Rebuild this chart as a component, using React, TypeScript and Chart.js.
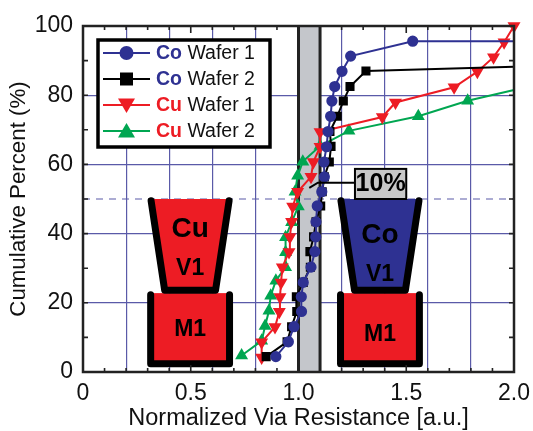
import React, { useEffect, useRef } from "react";
import { Chart, registerables } from "chart.js";

Chart.register(...registerables);

const FONT = '"Liberation Sans", Arial, sans-serif';
const BLUE = "#2e3192";
const RED = "#ed1c24";
const GREEN = "#00a651";
const GRID = "#5a5aa8";

const co1X = [0.895, 0.953, 0.979, 1.014, 1.013, 1.022, 1.058, 1.076, 1.08, 1.081, 1.087, 1.108, 1.12, 1.118, 1.13, 1.137, 1.149, 1.155, 1.168, 1.202, 1.242, 1.53, 2.0];
const co1Y = [4.45, 8.73, 13.1, 17.5, 21.75, 25.9, 30.3, 34.8, 39.05, 43.4, 48, 52.1, 56.4, 60.7, 65.1, 69.5, 73.9, 78.3, 82.5, 86.9, 91.3, 95.6, 95.6];
const co2X = [0.85, 0.947, 0.968, 0.992, 0.99, 1.022, 1.055, 1.053, 1.07, 1.081, 1.103, 1.11, 1.12, 1.143, 1.151, 1.146, 1.18, 1.208, 1.239, 1.313, 2.0];
const co2Y = [4.45, 8.73, 13.1, 17.5, 21.75, 25.9, 30.3, 34.8, 39.05, 43.4, 48, 52.1, 56.4, 60.7, 65.2, 69.5, 73.9, 78.3, 82.5, 87, 88.2];
const cu1X = [0.829, 0.829, 0.891, 0.911, 0.914, 0.919, 0.925, 0.956, 0.96, 0.968, 0.973, 0.996, 1.058, 1.069, 1.1, 1.1, 1.389, 1.45, 1.722, 1.83, 1.905, 1.954, 2.0];
const cu1Y = [4.2, 8.63, 13, 17.4, 21.65, 25.9, 30.3, 34.7, 39.05, 43.4, 47.8, 52.1, 56.4, 60.7, 65.1, 69.4, 73.7, 77.9, 82.3, 86.8, 91, 95.3, 100];
const cu2X = [0.736, 0.829, 0.845, 0.863, 0.871, 0.895, 0.94, 0.94, 0.94, 0.968, 0.999, 0.984, 0.996, 1.02, 1.1, 1.234, 1.556, 1.785, 2.0];
const cu2Y = [4.75, 9, 13.3, 17.7, 22.05, 26.4, 30.3, 34.6, 38.95, 43.3, 47.8, 52.1, 56.7, 60.8, 65.3, 69.7, 73.9, 78.4, 81.5];

const xLabels = ["0", "0.5", "1.0", "1.5", "2.0"];
const yLabels = ["0", "20", "40", "60", "80", "100"];
const legendRows = [
  { metal: "Co", wafer: " Wafer 1", metalColor: BLUE, color: BLUE, style: "circle" },
  { metal: "Co", wafer: " Wafer 2", metalColor: BLUE, color: "#000000", style: "square" },
  { metal: "Cu", wafer: " Wafer 1", metalColor: RED, color: RED, style: "down" },
  { metal: "Cu", wafer: " Wafer 2", metalColor: RED, color: GREEN, style: "up" },
];

function series(xs: number[], ys: number[]) {
  return xs.map((x, i) => ({ x, y: ys[i] }));
}

function drawCartoon(c: CanvasRenderingContext2D, X: (v: number) => number, Y: (v: number) => number, cx: number, fill: string, metal: string, yMetal: number, yV1: number, yM1: number) {
  const t = 0.181, b = 0.118, m = 0.183;
  c.save();
  c.fillStyle = fill;
  c.beginPath();
  c.moveTo(X(cx - t), Y(50));
  c.lineTo(X(cx + t), Y(50));
  c.lineTo(X(cx + b), Y(22.8));
  c.lineTo(X(cx - b), Y(22.8));
  c.closePath();
  c.fill();
  c.fillStyle = RED;
  c.fillRect(X(cx - m), Y(22.8), X(cx + m) - X(cx - m), Y(2) - Y(22.8));
  c.strokeStyle = "#000";
  c.lineWidth = 7;
  c.lineCap = "round";
  c.lineJoin = "round";
  c.beginPath();
  c.moveTo(X(cx - t), Y(49.5));
  c.lineTo(X(cx - b), Y(23.6));
  c.lineTo(X(cx + b), Y(23.6));
  c.lineTo(X(cx + t), Y(49.5));
  c.stroke();
  c.beginPath();
  c.moveTo(X(cx - m), Y(22.3));
  c.lineTo(X(cx - m), Y(2.4));
  c.lineTo(X(cx + m), Y(2.4));
  c.lineTo(X(cx + m), Y(22.3));
  c.stroke();
  c.fillStyle = "#000";
  c.textAlign = "center";
  c.textBaseline = "middle";
  c.font = `bold 28px ${FONT}`;
  c.fillText(metal, X(cx), Y(yMetal));
  c.font = `bold 23px ${FONT}`;
  c.fillText("V1", X(cx), Y(yV1));
  c.fillText("M1", X(cx), Y(yM1));
  c.restore();
}

const underlay = {
  id: "underlay",
  beforeDatasetsDraw(chart: any) {
    const c = chart.ctx as CanvasRenderingContext2D;
    const X = (v: number) => chart.scales.x.getPixelForValue(v);
    const Y = (v: number) => chart.scales.y.getPixelForValue(v);
    c.save();
    c.fillStyle = "#c4c6cb";
    c.fillRect(X(1), Y(100), X(1.1) - X(1), Y(0) - Y(100));
    c.strokeStyle = "#222";
    c.lineWidth = 3;
    c.beginPath();
    c.moveTo(X(1), Y(100));
    c.lineTo(X(1), Y(0));
    c.moveTo(X(1.1), Y(100));
    c.lineTo(X(1.1), Y(0));
    c.stroke();
    c.strokeStyle = GRID;
    c.lineWidth = 1.2;
    c.setLineDash([7, 6]);
    c.beginPath();
    c.moveTo(X(0), Y(50));
    c.lineTo(X(2), Y(50));
    c.stroke();
    c.restore();
    drawCartoon(c, X, Y, 0.497, RED, "Cu", 41.3, 30, 12.1);
    drawCartoon(c, X, Y, 1.378, BLUE, "Co", 39.6, 28, 10.7);
  },
};

function marker(c: CanvasRenderingContext2D, style: string, x: number, y: number, color: string) {
  c.fillStyle = color;
  c.beginPath();
  if (style === "circle") c.arc(x, y, 7, 0, Math.PI * 2);
  if (style === "square") c.rect(x - 6.5, y - 6.5, 13, 13);
  if (style === "down") {
    c.moveTo(x - 8.5, y - 6.5);
    c.lineTo(x + 8.5, y - 6.5);
    c.lineTo(x, y + 8);
    c.closePath();
  }
  if (style === "up") {
    c.moveTo(x - 8.5, y + 6.5);
    c.lineTo(x + 8.5, y + 6.5);
    c.lineTo(x, y - 8);
    c.closePath();
  }
  c.fill();
}

const overlay = {
  id: "overlay",
  afterDatasetsDraw(chart: any) {
    const c = chart.ctx as CanvasRenderingContext2D;
    const xs = chart.scales.x;
    const ys = chart.scales.y;
    const X = (v: number) => xs.getPixelForValue(v);
    const Y = (v: number) => ys.getPixelForValue(v);
    const a = chart.chartArea;
    c.save();

    // callout
    c.strokeStyle = "#000";
    c.lineWidth = 2;
    c.beginPath();
    c.moveTo(X(1.262), Y(54.7));
    c.lineTo(X(1.09), Y(54.7));
    c.lineTo(X(1.05), Y(53.2));
    c.stroke();
    c.fillStyle = "#c8c8c8";
    c.fillRect(X(1.262), Y(58.7), X(1.5) - X(1.262), Y(50) - Y(58.7));
    c.strokeRect(X(1.262), Y(58.7), X(1.5) - X(1.262), Y(50) - Y(58.7));
    c.fillStyle = "#000";
    c.textAlign = "center";
    c.textBaseline = "middle";
    c.font = `bold 25px ${FONT}`;
    c.fillText("10%", X(1.381), Y(54.3));

    // inward ticks
    c.strokeStyle = "#222";
    c.lineWidth = 1.6;
    c.beginPath();
    xs.ticks.forEach((t: any) => {
      const p = X(t.value);
      const major = Math.abs(t.value * 2 - Math.round(t.value * 2)) < 1e-6;
      const l = major ? 7 : 4;
      c.moveTo(p, a.bottom);
      c.lineTo(p, a.bottom - l);
      c.moveTo(p, a.top);
      c.lineTo(p, a.top + l);
    });
    ys.ticks.forEach((t: any) => {
      const p = Y(t.value);
      c.moveTo(a.left, p);
      c.lineTo(a.left + 5, p);
      c.moveTo(a.right, p);
      c.lineTo(a.right - 5, p);
    });
    c.stroke();

    // frame
    c.strokeStyle = "#222";
    c.lineWidth = 2.5;
    c.strokeRect(a.left, a.top, a.right - a.left, a.bottom - a.top);

    // legend
    c.fillStyle = "#fff";
    c.strokeStyle = "#000";
    c.lineWidth = 3.5;
    c.fillRect(98, 40, 172, 107);
    c.strokeRect(98, 40, 172, 107);
    const rowY = [53, 79, 105, 131];
    legendRows.forEach((r, i) => {
      const y = rowY[i];
      c.strokeStyle = r.color;
      c.lineWidth = 2;
      c.beginPath();
      c.moveTo(103, y);
      c.lineTo(150, y);
      c.stroke();
      marker(c, r.style, 126.5, y, r.color);
      c.textAlign = "left";
      c.textBaseline = "middle";
      c.font = `bold 19.5px ${FONT}`;
      c.fillStyle = r.metalColor;
      c.fillText(r.metal, 156, y + 1);
      const w = c.measureText(r.metal).width;
      c.font = `19.5px ${FONT}`;
      c.fillStyle = "#111";
      c.fillText(r.wafer, 156 + w, y + 1);
    });
    c.restore();
  },
};

export default function App() {
  const ref = useRef<HTMLCanvasElement>(null);
  useEffect(() => {
    const common = { borderWidth: 2, tension: 0, clip: false as any };
    const noLast = (r: number) => (ctx: any) => (ctx.dataIndex === ctx.dataset.data.length - 1 && ctx.dataset.hideLast ? 0 : r);
    const chart = new Chart(ref.current!, {
      type: "line",
      data: {
        datasets: [
          { ...common, label: "Co Wafer 1", data: series(co1X, co1Y), borderColor: BLUE, backgroundColor: BLUE, pointStyle: "circle", pointRadius: noLast(4.6), hideLast: true } as any,
          { ...common, label: "Co Wafer 2", data: series(co2X, co2Y), borderColor: "#000", backgroundColor: "#000", pointStyle: "rect", pointRadius: noLast(5), hideLast: true } as any,
          { ...common, label: "Cu Wafer 1", data: series(cu1X, cu1Y), borderColor: RED, backgroundColor: RED, pointStyle: "triangle", pointRotation: 180, pointRadius: 5.5 } as any,
          { ...common, label: "Cu Wafer 2", data: series(cu2X, cu2Y), borderColor: GREEN, backgroundColor: GREEN, pointStyle: "triangle", pointRadius: noLast(5.5), hideLast: true } as any,
        ],
      },
      options: {
        responsive: false,
        animation: false,
        parsing: false as any,
        layout: { padding: { top: 26, right: 19, left: 0, bottom: 0 } },
        plugins: { legend: { display: false }, tooltip: { enabled: false } },
        scales: {
          x: {
            type: "linear",
            min: 0,
            max: 2,
            afterFit(s: any) { s.height = 59; s.paddingRight = 0; s.paddingLeft = 0; },
            border: { display: false },
            grid: {
              drawTicks: false,
              color: (ctx: any) => (Math.abs(ctx.tick.value * 5 - Math.round(ctx.tick.value * 5)) < 1e-6 ? GRID : "transparent"),
              lineWidth: 1.2,
            },
            ticks: {
              stepSize: 0.1,
              autoSkip: false,
              maxRotation: 0,
              padding: 8,
              color: "#111",
              font: { family: FONT, size: 23 },
              callback: (v: any) => {
                const i = Number(v) * 2;
                return Math.abs(i - Math.round(i)) < 1e-6 ? xLabels[Math.round(i)] : "";
              },
            },
            title: {
              display: true,
              text: "Normalized Via Resistance [a.u.]",
              color: "#111",
              font: { family: FONT, size: 23.5 },
              padding: { top: 0, bottom: -2 },
            },
          },
          y: {
            type: "linear",
            min: 0,
            max: 100,
            afterFit(s: any) { s.width = 83; s.paddingTop = 0; s.paddingBottom = 0; },
            border: { display: false },
            grid: {
              drawTicks: false,
              color: (ctx: any) => (ctx.tick.value % 20 === 0 ? GRID : "transparent"),
              lineWidth: 1.2,
            },
            ticks: {
              stepSize: 10,
              autoSkip: false,
              padding: 10,
              color: "#111",
              font: { family: FONT, size: 23 },
              callback: (v: any) => (Number(v) % 20 === 0 ? yLabels[Number(v) / 20] : ""),
            },
            title: {
              display: true,
              text: "Cumulative Percent (%)",
              color: "#111",
              font: { family: FONT, size: 22.3 },
              padding: { top: 5, bottom: 0 },
            },
          },
        },
      },
      plugins: [underlay, overlay],
    } as any);
    return () => chart.destroy();
  }, []);
  return (
    <canvas
      ref={ref}
      width={533}
      height={431}
      style={{ position: "absolute", left: 0, top: 0, width: 533, height: 431, background: "#fff", filter: "blur(0.5px)" }}
    />
  );
}
